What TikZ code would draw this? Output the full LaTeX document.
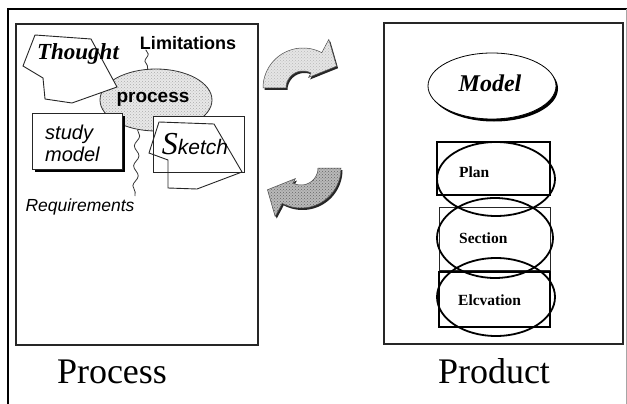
\documentclass[tikz,border=0pt]{standalone}
\usepackage{fontspec}
\setmainfont{Liberation Serif}
\setsansfont{Liberation Sans}
\usetikzlibrary{shapes.geometric,decorations.pathmorphing,patterns,shadows}

\newcommand{\myarrowshape}{plot[domain=180:298,samples=40] ({40*cos(\x)},{40*sin(\x)}) -- (298:55) -- (327:40) -- (298:12) -- plot[domain=298:180,samples=40] ({17*cos(\x)},{17*sin(\x)}) -- cycle}

\begin{document}
\begin{tikzpicture}[x=1pt,y=-1pt,
  panel/.style={draw=black!85, line width=1.2pt},
  outline/.style={draw=black!85, line width=0.9pt},
  wavy/.style={draw=black!80, line width=0.8pt, decorate, decoration={snake, amplitude=2.5pt, segment length=20pt}},
  sanslabel/.style={font=\sffamily\bfseries\fontsize{18}{20}\selectfont, inner sep=0pt},
  itlabel/.style={font=\sffamily\itshape\fontsize{20}{22}\selectfont, inner sep=0pt},
  viewlabel/.style={font=\bfseries\fontsize{15.5}{17}\selectfont, inner sep=0pt, anchor=west},
  viewell/.style={ellipse, draw=black, line width=1.8pt, inner sep=0pt},
  bigtitle/.style={font=\fontsize{36}{40}\selectfont, inner sep=0pt, anchor=base},
  scriptlabel/.style={font=\bfseries\itshape\fontsize{23}{25}\selectfont, inner sep=0pt}
]
\useasboundingbox (0,0) rectangle (627,404);
\fill[white] (0,0) rectangle (627,404);

% outer frame
\draw[line width=2pt] (8,404) -- (8,9) -- (627,9);
\draw[black!35, line width=0.6pt] (626,9) -- (626,404);

% panels
\draw[panel] (16,24) rectangle (258,345);
\draw[panel] (384,23) rectangle (623,344);

% ---------- left panel ----------
\node[ellipse, draw=black!80, line width=0.8pt, minimum width=112pt, minimum height=62pt, inner sep=0pt,
      preaction={fill=gray!18}, pattern=crosshatch dots, pattern color=gray!65] (proc) at (156,100) {};

% Thought polygon
\draw[outline, fill=white] (35,35) -- (91,39) -- (117,87) -- (72,103) -- (45,99) -- (43,78) -- (23,66) -- cycle;
\node[scriptlabel] (thought) at (78,54) {Thought};

% study model box
\fill[black] (35,116) rectangle (125,172);
\draw[outline, fill=white] (32,113) rectangle (122,169);
\node[itlabel, align=left, anchor=west] (study) at (45,143) {study\\model};

% Sketch
\fill[white] (153,116) rectangle (244,172);
\fill[white] (159,122) -- (214,124) -- (242,172) -- (197,189) -- (168,188) -- (168,160) -- (149,153) -- cycle;
\draw[outline] (153,116) rectangle (244,172);
\draw[outline] (159,122) -- (214,124) -- (242,172) -- (197,189) -- (168,188) -- (168,160) -- (149,153) -- cycle;
\node[inner sep=0pt] (sketch) at (195,144) {{\fontsize{32}{32}\selectfont\itshape S}{\sffamily\itshape\fontsize{21}{22}\selectfont ketch}};

% labels
\node[sanslabel] (lim) at (188,43) {Limitations};
\node[sanslabel, font=\sffamily\bfseries\fontsize{19}{20}\selectfont] (proctext) at (153,99) {process};
\node[itlabel, font=\sffamily\itshape\fontsize{17.5}{20}\selectfont] (req) at (80,207) {Requirements};
\coordinate (rq) at (135,196);

\draw[wavy, decoration={snake, amplitude=2pt, segment length=14pt}] ([xshift=6pt]lim.south west) -- (proc.105);
\draw[wavy] (proc.238) -- (rq);

% curved arrows
\begin{scope}[shift={(303,88)}]
  \fill[black!85, shift={(1.5,2)}] \myarrowshape;
  \draw[black!70, line width=0.5pt, preaction={fill=gray!20}, pattern=crosshatch dots, pattern color=gray!55] \myarrowshape;
\end{scope}
\begin{scope}[rotate around={180:(302,128)}]
\begin{scope}[shift={(303,88)}]
  \fill[black!85, shift={(-1.5,-2)}] \myarrowshape;
  \draw[black!70, line width=0.5pt, preaction={fill=gray!55}, pattern=crosshatch dots, pattern color=black!60] \myarrowshape;
\end{scope}
\end{scope}

% ---------- right panel ----------
\node[ellipse, draw=black, line width=0.8pt, fill=white, minimum width=128pt, minimum height=66pt, inner sep=0pt,
      drop shadow={shadow xshift=2pt, shadow yshift=-2.5pt, fill=black, opacity=1}] (model) at (492,86) {};
\node[scriptlabel, font=\bfseries\itshape\fontsize{24}{26}\selectfont] (modeltext) at (490,83) {Model};

\draw[black, line width=1.6pt] (437,142) rectangle (550,195);
\draw[black!85, line width=0.8pt] (439,207) rectangle (550,270);
\draw[black, line width=1.6pt] (439,272) rectangle (550,327);

\node[viewell, minimum width=118pt, minimum height=74pt] (planell) at (496,179) {};
\node[viewell, minimum width=116pt, minimum height=80pt] (secell) at (495,238) {};
\node[viewell, minimum width=118pt, minimum height=78pt] (elevell) at (496,297) {};

\node[viewlabel] (plan) at (459,172) {Plan};
\node[viewlabel] (section) at (459,238) {Section};
\node[viewlabel] (elev) at (458,300) {Elcvation};

% titles
\node[bigtitle] (process) at (112,383) {Process};
\node[bigtitle] (product) at (494,383) {Product};
\end{tikzpicture}
\end{document}
